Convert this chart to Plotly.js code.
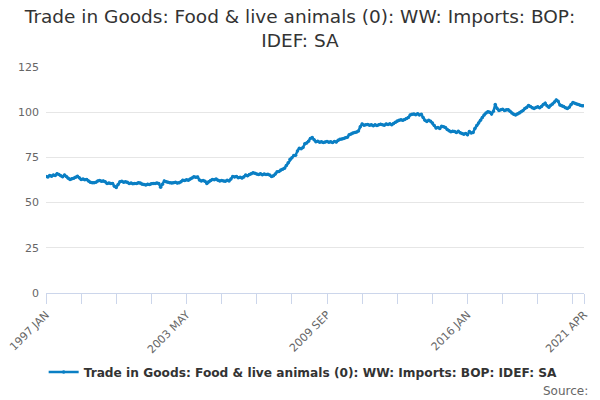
<!DOCTYPE html>
<html>
<head>
<meta charset="utf-8">
<script src="https://cdn.plot.ly/plotly-3.0.1.min.js"></script>
<style>
  body { margin: 0; background: #fff; }
  #chart { width: 600px; height: 400px; }
</style>
</head>
<body>
<div id="chart"></div>
<script>
// Monthly index values, 1997 JAN to 2021 APR
let months = ["JAN","FEB","MAR","APR","MAY","JUN","JUL","AUG","SEP","OCT","NOV","DEC"]
let startYear = 1997
let values = [
  64.5, 64.2, 65, 64.6, 65.2, 65, 66, 65.5, 64.8, 64.3, 65.2, 64.5,
  63.5, 62.8, 63.2, 63.4, 64, 64.6, 63.8, 62.8, 63, 62.6, 62.8, 62,
  61.2, 61, 61, 61.3, 62, 62.2, 61.8, 62, 61.5, 60.6, 60.8, 60.5,
  60.6, 59, 58.4, 60, 61.5, 61.8, 61.3, 61.5, 61.2, 60.6, 60.8, 60.4,
  60.6, 60.5, 61, 60.8, 60.2, 60, 59.8, 60.2, 60, 60.4, 60.6, 60.6,
  60.8, 60.5, 58.5, 60.2, 62, 61.5, 61.2, 61, 60.8, 61, 61.2, 60.8,
  61, 61.5, 62.4, 62.2, 62.6, 62.4, 63, 63.6, 64.3, 64, 64.2, 62.5,
  62, 62.2, 61.8, 60.6, 61.5, 62.2, 62.8, 62.6, 63, 62.4, 62, 62.2,
  62, 61.8, 62.3, 62, 63, 64.5, 64.2, 64.5, 63.8, 64, 63.6, 64.2,
  65.2, 64.8, 65.6, 66, 66.5, 66.2, 65.8, 65.5, 66, 65.4, 65.8, 65.6,
  65.7, 65.2, 64.4, 64.8, 65.8, 67, 67.2, 68, 68.5, 69, 70.5, 72,
  74, 74.8, 76, 76.2, 78.5, 80, 79.8, 80.5, 82.5, 83, 84, 85.5,
  86, 84.8, 83.6, 84, 83.4, 83.6, 83.2, 83.5, 83.8, 83.4, 83.6, 83.2,
  83.8, 83.5, 84.5, 85, 85.2, 85.5, 85.8, 86.2, 87.5, 88, 88.5, 88.8,
  89, 89.6, 92, 93.5, 92.8, 93, 93.2, 92.8, 93, 92.5, 93, 92.6,
  93, 93.4, 93, 92.8, 93.5, 93.2, 93.6, 93, 93.8, 94.5, 95.2, 95.5,
  95.8, 95.5, 96, 96.5, 97, 98.5, 98.8, 99, 98.6, 99.2, 98.5, 98.8,
  97, 95.5, 94.8, 95.5, 95, 94, 92.6, 91.2, 91.5, 91, 92.2, 92,
  91.6, 90.5, 89.8, 89.2, 89.5, 89.3, 88.8, 89.5, 88.6, 88.2, 87.8, 88.2,
  87.5, 89.3, 88.5, 88.8, 91, 92.6, 94, 95.5, 97, 98.5, 99.5, 100.3,
  100, 99, 100.5, 104.2, 102, 101, 101.3, 101.6, 101, 101.3, 101.4, 100.5,
  99.5, 98.8, 98.5, 99, 99.6, 100.3, 101, 102, 102.6, 103.7, 103.2, 102.5,
  102, 102.6, 103, 102.5, 103.2, 104.2, 105, 103.5, 102.8, 103.8, 104.5, 105.6,
  106.8, 106, 104, 103.5, 103.2, 102.5, 102, 102.8, 104.2, 105.3, 105, 104.6,
  104.2, 103.8, 103.5, 103.6
]
let yTicks = [0, 25, 50, 75, 100, 125]
let labelText = ["1997 JAN", "2003 MAY", "2009 SEP", "2016 JAN", "2021 APR"]

// build category labels
let dates = []
for (let i = 0; i < values.length; i++) {
  let y = startYear + Math.floor(i / 12)
  dates.push(y + " " + months[i % 12])
}

// a tick every 19 months, text on every 4th one plus the last month
let tickvals = []
let ticktext = []
for (let i = 0; i < dates.length; i += 19) {
  tickvals.push(dates[i])
  ticktext.push(labelText.includes(dates[i]) ? dates[i] : "")
}
tickvals.push(dates[dates.length - 1])
ticktext.push(dates[dates.length - 1])

let trace = {
  x: dates,
  y: values,
  type: "scatter",
  mode: "lines+markers",
  name: "<b>Trade in Goods: Food & live animals (0): WW: Imports: BOP: IDEF: SA</b>",
  line: { color: "#0a7fc4", width: 2.5 },
  marker: { color: "#0a7fc4", size: 3.5 }
}

let layout = {
  width: 600,
  height: 400,
  margin: { l: 46, r: 16, t: 67, b: 107, autoexpand: false },
  paper_bgcolor: "#fff",
  plot_bgcolor: "#fff",
  font: { family: "DejaVu Sans, sans-serif", color: "#666", size: 11 },
  title: {
    text: "Trade in Goods: Food & live animals (0): WW: Imports: BOP:<br>IDEF: SA",
    font: { family: "DejaVu Sans, sans-serif", size: 18.5, color: "#333" },
    xref: "container", x: 0.5, xanchor: "center",
    yref: "container", y: 0.942, yanchor: "middle"
  },
  xaxis: {
    type: "category",
    tickmode: "array",
    tickvals: tickvals,
    ticktext: ticktext,
    tickangle: -45,
    ticks: "outside",
    ticklen: 10,
    tickcolor: "#ccd6eb",
    showline: true,
    linecolor: "#ccd6eb",
    linewidth: 1,
    showgrid: false,
    zeroline: false,
    automargin: false,
    range: [0, values.length - 1],
    tickfont: { size: 11, color: "#666" }
  },
  yaxis: {
    range: [0, 125],
    tickvals: yTicks,
    showgrid: true,
    gridcolor: "#e6e6e6",
    zeroline: false,
    showline: false,
    ticks: "",
    automargin: false,
    ticklabelstandoff: 6,
    tickfont: { size: 11, color: "#666" }
  },
  showlegend: true,
  legend: {
    orientation: "h",
    xref: "paper", x: 0.478, xanchor: "center",
    yref: "container", y: 0.07, yanchor: "middle",
    font: { size: 12.2, color: "#333" }
  },
  annotations: [{
    text: "Source:",
    xref: "paper", yref: "paper",
    x: 1.012, xanchor: "right",
    y: -0.395, yanchor: "top",
    showarrow: false,
    font: { size: 12, color: "#666" }
  }]
}

Plotly.newPlot("chart", [trace], layout, { displayModeBar: false, staticPlot: true })
</script>
</body>
</html>
